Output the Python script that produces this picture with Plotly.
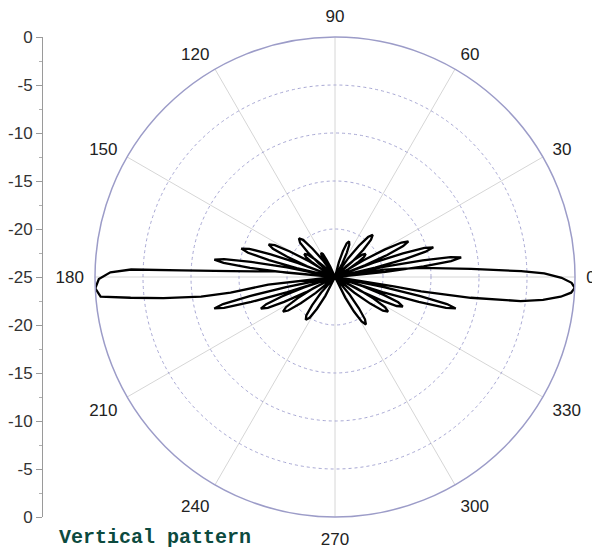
import plotly.graph_objects as go

# angular ticks
angle_ticks = list(range(0, 360, 30))
angle_labels = [str(a) for a in angle_ticks]
angle_minor = list(range(15, 360, 30))

# radial grid levels (dB)
major_rings = [-20, -15, -10, -5]
minor_rings = [-22.5, -17.5, -12.5, -7.5, -2.5]

# left scale: 0 at the rim, -25 at the centre, 0 at the rim again
scale_vals = list(range(-25, 30, 5))
scale_text = [str(abs(v) - 25) for v in scale_vals]

# pattern, one lobe per line (deg, dB)
theta_deg = [
    -90,
    -64.5, -63.5, -61.2, -59.1, -56.9, -54.7, -52.6, -50.3, -49.3,
    -39.9, -39.0, -37.0, -35.1, -33.1, -31.1, -29.2, -27.2, -26.3,
    -29.3, -28.5, -26.8, -25.2, -23.5, -21.8, -20.2, -18.5, -17.7,
    -18.05, -17.6, -16.6, -15.6, -14.6, -13.6, -12.6, -11.6, -11.15,
    -7.0, -9.1, -9.4, -8.7, -7.4, -6.3, -5.0, -3.8, -2.6, -1.4, -0.2, 1.0, 1.8, 3.45, 6.1, 8.6, 11.0,
    5.43, 5.88, 6.88, 7.82, 8.8, 9.78, 10.72, 11.72, 12.17,
    12.6, 13.2, 14.4, 15.6, 16.8, 18.0, 19.2, 20.4, 21.0,
    20.6, 21.3, 22.9, 24.4, 25.9, 27.4, 28.9, 30.5, 31.2,
    29.2, 30.2, 32.5, 34.7, 37.0, 39.3, 41.5, 43.8, 44.8,
    40.6, 41.6, 43.9, 46.0, 48.2, 50.4, 52.5, 54.8, 55.8,
    60.7, 61.7, 64.0, 66.2, 68.5, 70.8, 73.0, 75.3, 76.3,
    90,
    113.7, 114.7, 116.2, 117.7, 119.7, 121.7, 123.2, 124.7, 125.7,
    125.0, 126.1, 128.5, 130.7, 133.1, 135.5, 137.8, 140.2, 141.2,
    135.2, 136.2, 138.5, 140.7, 143.0, 145.3, 147.5, 149.8, 150.8,
    148.0, 148.8, 150.5, 152.1, 153.8, 155.5, 157.1, 158.8, 159.6,
    158.7, 159.3, 160.6, 161.8, 163.1, 164.4, 165.6, 166.9, 167.5,
    168.3, 168.7, 169.8, 170.8, 171.8, 172.8, 173.8, 174.9, 175.3,
    171.0, 174.7, 176.8, 177.5, 177.9, 178.8, 180.5, 182.7, 184.8, 185.8, 187.0, 188.3, 188.5, 186.5, 184.5,
    191.15, 191.6, 192.6, 193.6, 194.6, 195.6, 196.6, 197.6, 198.05,
    197.8, 198.5, 200.1, 201.6, 203.1, 204.6, 206.1, 207.7, 208.4,
    206.7, 207.6, 209.7, 211.6, 213.6, 215.6, 217.5, 219.6, 220.5,
    227.4, 228.5, 231.0, 233.3, 235.7, 238.1, 240.4, 242.9, 244.0,
    270,
]
gain_db = [
    -25,
    -25, -22.6, -20.9, -19.6, -19.1, -19.6, -20.9, -22.6, -25,
    -25, -22.4, -20.4, -18.9, -18.4, -18.9, -20.4, -22.4, -25,
    -25, -21.9, -19.6, -17.9, -17.3, -17.9, -19.6, -21.9, -25,
    -25, -19.8, -15.9, -13.0, -12.0, -13.0, -15.9, -19.8, -25,
    -25, -18.8, -15.9, -10.7, -5.5, -3.2, -1.4, -0.35, 0, -0.35, -1.4, -3.2, -5.6, -10.8, -16.0, -19.8, -25,
    -25, -19.7, -15.7, -12.8, -11.7, -12.8, -15.7, -19.7, -25,
    -25, -20.7, -17.5, -15.2, -14.3, -15.2, -17.5, -20.7, -25,
    -25, -21.6, -19.1, -17.2, -16.5, -17.2, -19.1, -21.6, -25,
    -25, -23.4, -22.2, -21.3, -21.0, -21.3, -22.2, -23.4, -25,
    -25, -22.6, -20.9, -19.6, -19.1, -19.6, -20.9, -22.6, -25,
    -25, -23.4, -22.2, -21.3, -21.0, -21.3, -22.2, -23.4, -25,
    -25,
    -25, -23.8, -23.0, -22.3, -22.1, -22.3, -23.0, -23.8, -25,
    -25, -22.8, -21.2, -19.9, -19.5, -19.9, -21.2, -22.8, -25,
    -25, -23.4, -22.2, -21.3, -21.0, -21.3, -22.2, -23.4, -25,
    -25, -21.9, -19.6, -17.9, -17.3, -17.9, -19.6, -21.9, -25,
    -25, -20.9, -17.9, -15.6, -14.8, -15.6, -17.9, -20.9, -25,
    -25, -19.9, -16.1, -13.3, -12.3, -13.3, -16.1, -19.9, -25,
    -25, -18.75, -14.2, -9.0, -3.75, -1.6, -0.4, 0, -0.5, -3.6, -7.0, -10.9, -14.0, -18.0, -25,
    -25, -19.8, -15.9, -13.0, -12.0, -13.0, -15.9, -19.8, -25,
    -25, -21.6, -19.1, -17.3, -16.6, -17.3, -19.1, -21.6, -25,
    -25, -22.4, -20.5, -19.0, -18.5, -19.0, -20.5, -22.4, -25,
    -25, -22.8, -21.2, -20.0, -19.6, -20.0, -21.2, -22.8, -25,
    -25,
]

fig = go.Figure()

# empty trace so the left scale gets drawn
fig.add_trace(go.Scatter(x=[], y=[], xaxis="x", yaxis="y", showlegend=False, hoverinfo="skip"))

fig.add_trace(go.Scatterpolar(
    r=gain_db,
    theta=theta_deg,
    mode="lines",
    line=dict(color="black", width=2.3),
    subplot="polar2",
    showlegend=False,
))

# the page has an 8px body margin, so the figure is 8px smaller than the window
dom_x = [52 / 532, 1]
rim = "#9c9cc8"

fig.update_layout(
    width=592,
    height=544,
    paper_bgcolor="white",
    plot_bgcolor="white",
    margin=dict(l=35, r=25, t=29, b=35, autoexpand=False),
    font=dict(family="Liberation Sans, Arial, sans-serif", size=17, color="#333333"),
    polar=dict(
        domain=dict(x=dom_x, y=[0, 1]),
        bgcolor="white",
        radialaxis=dict(
            range=[-25, 0], tickvals=minor_rings, showticklabels=False, ticks="",
            showline=False, gridcolor="#b8ddb8", griddash="dot", gridwidth=1,
        ),
        angularaxis=dict(
            tickvals=angle_minor, showticklabels=False, ticks="inside", ticklen=4,
            tickcolor=rim, showgrid=False, showline=False,
            direction="counterclockwise", rotation=0,
        ),
    ),
    polar2=dict(
        domain=dict(x=dom_x, y=[0, 1]),
        bgcolor="rgba(0,0,0,0)",
        radialaxis=dict(
            range=[-25, 0], tickvals=major_rings, showticklabels=False, ticks="",
            showline=False, gridcolor="#a8a8d4", griddash="dot", gridwidth=1,
        ),
        angularaxis=dict(
            tickvals=angle_ticks, ticktext=angle_labels,
            showgrid=True, gridcolor="#d6d6d6", gridwidth=1,
            showline=True, linecolor=rim, linewidth=1.5,
            ticks="outside", ticklen=7, tickcolor="rgba(0,0,0,0)",
            direction="counterclockwise", rotation=0,
            tickfont=dict(size=17, color="#222222"),
        ),
    ),
    xaxis=dict(domain=[0, 0.05], visible=False, range=[0, 1]),
    yaxis=dict(
        domain=[0, 1], range=[-25, 25], anchor="x",
        tickvals=scale_vals, ticktext=scale_text,
        showline=True, linecolor="#9a9a9a", linewidth=1,
        ticks="outside", ticklen=6, tickcolor="#9a9a9a",
        minor=dict(dtick=2.5, ticks="outside", ticklen=3, tickcolor="#b0b0b0"),
        showgrid=False, zeroline=False,
        tickfont=dict(size=17, color="#333333"),
    ),
    annotations=[dict(
        text="<b>Vertical pattern</b>", xref="paper", yref="paper",
        x=14 / 532, y=-20 / 480, xanchor="left", yanchor="middle", showarrow=False,
        font=dict(family="Liberation Mono, DejaVu Sans Mono, monospace", size=20, color="#0c4a3e"),
    )],
)

fig.write_html("out.html")
